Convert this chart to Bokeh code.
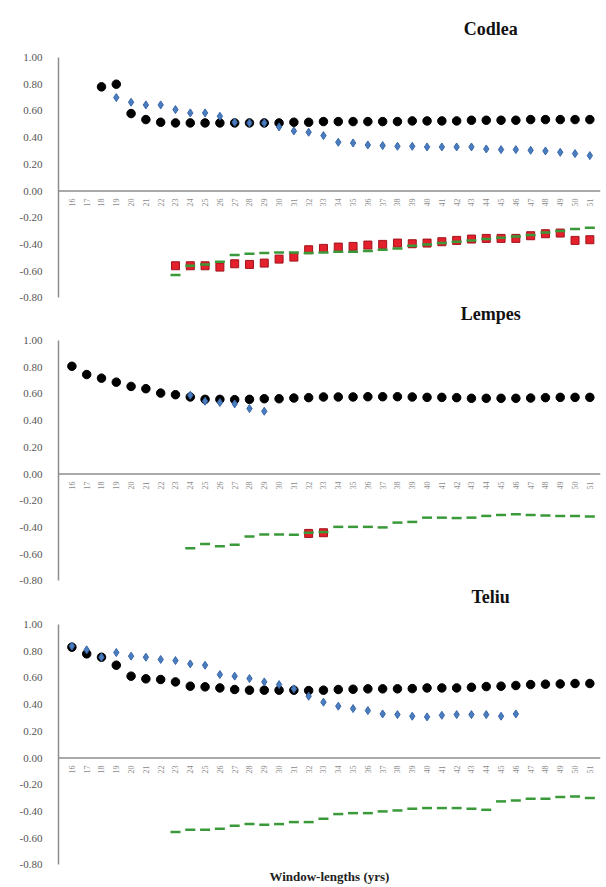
from math import pi
import numpy as np
from bokeh.plotting import figure
from bokeh.layouts import column
from bokeh.models import Range1d, Span, Label, FixedTicker, NumeralTickFormatter
from bokeh.core.properties import value
from bokeh.embed import file_html
from bokeh.resources import INLINE

# ---------------- data ----------------
windows = list(range(16, 52))          # window lengths (tick labels), 36 categories
y_ticks = [-0.8, -0.6, -0.4, -0.2, 0.0, 0.2, 0.4, 0.6, 0.8, 1.0]

# Codlea
codlea_black_start = 3
codlea_black = [0.78, 0.80, 0.58, 0.535, 0.515, 0.51, 0.51, 0.51, 0.51, 0.51,
                0.51, 0.51, 0.51, 0.515, 0.515, 0.52, 0.52, 0.52, 0.52, 0.52,
                0.52, 0.525, 0.525, 0.525, 0.525, 0.53, 0.53, 0.53, 0.53, 0.535,
                0.535, 0.535, 0.535, 0.535]
codlea_blue_start = 4
codlea_blue = [0.70, 0.665, 0.645, 0.645, 0.61, 0.585, 0.585, 0.56, 0.515, 0.51,
               0.51, 0.48, 0.45, 0.44, 0.415, 0.365, 0.36, 0.345, 0.34, 0.335,
               0.335, 0.33, 0.33, 0.33, 0.33, 0.315, 0.31, 0.31, 0.305, 0.30,
               0.29, 0.28, 0.265]
codlea_red_start = 8
codlea_red = [-0.56, -0.56, -0.56, -0.57, -0.545, -0.55, -0.54, -0.51, -0.495, -0.44,
              -0.43, -0.42, -0.415, -0.405, -0.40, -0.39, -0.395, -0.39, -0.38, -0.37,
              -0.36, -0.355, -0.355, -0.355, -0.335, -0.32, -0.315, -0.37, -0.365]
codlea_green_start = 8
codlea_green = [-0.63, -0.56, -0.55, -0.53, -0.48, -0.47, -0.465, -0.46, -0.46, -0.465,
                -0.46, -0.455, -0.455, -0.45, -0.44, -0.43, -0.41, -0.40, -0.39, -0.38,
                -0.37, -0.36, -0.35, -0.34, -0.33, -0.31, -0.30, -0.285, -0.275]

# Lempes
lempes_black_start = 1
lempes_black = [0.807, 0.745, 0.718, 0.688, 0.656, 0.639, 0.606, 0.594, 0.577, 0.559,
                0.559, 0.557, 0.559, 0.564, 0.564, 0.569, 0.572, 0.577, 0.577, 0.577,
                0.579, 0.579, 0.579, 0.577, 0.574, 0.574, 0.572, 0.567, 0.567, 0.567,
                0.567, 0.569, 0.572, 0.574, 0.574, 0.574]
lempes_blue_start = 9
lempes_blue = [0.59, 0.545, 0.535, 0.525, 0.49, 0.47]
lempes_red_start = 17
lempes_red = [-0.445, -0.44]
lempes_green_start = 9
lempes_green = [-0.557, -0.525, -0.542, -0.53, -0.468, -0.453, -0.453, -0.455, -0.44, -0.435,
                -0.396, -0.396, -0.396, -0.40, -0.364, -0.359, -0.327, -0.327, -0.33, -0.327,
                -0.314, -0.307, -0.302, -0.307, -0.31, -0.314, -0.314, -0.319]

# Teliu
teliu_black_start = 1
teliu_black = [0.83, 0.78, 0.755, 0.695, 0.613, 0.593, 0.588, 0.57, 0.538, 0.533,
               0.525, 0.513, 0.508, 0.508, 0.508, 0.508, 0.505, 0.508, 0.513, 0.515,
               0.518, 0.518, 0.518, 0.52, 0.525, 0.525, 0.525, 0.53, 0.535, 0.538,
               0.543, 0.55, 0.553, 0.555, 0.558, 0.558]
teliu_blue_start = 1
teliu_blue = [0.838, 0.81, 0.755, 0.79, 0.763, 0.755, 0.738, 0.73, 0.705, 0.695,
              0.625, 0.613, 0.595, 0.57, 0.55, 0.518, 0.463, 0.418, 0.388, 0.37,
              0.355, 0.33, 0.325, 0.313, 0.308, 0.32, 0.325, 0.325, 0.325, 0.313,
              0.33]
teliu_red_start = None
teliu_red = []
teliu_green_start = 8
teliu_green = [-0.555, -0.538, -0.538, -0.53, -0.508, -0.495, -0.50, -0.495, -0.48, -0.48,
               -0.455, -0.42, -0.413, -0.413, -0.40, -0.393, -0.38, -0.375, -0.375, -0.375,
               -0.38, -0.388, -0.325, -0.318, -0.305, -0.305, -0.293, -0.288, -0.30]

SERIF = "Liberation Serif"
PX_PER_UNIT = 133.5


def xs(start, vals):
    return [start + i for i in range(len(vals))]


def panel(name, height, top_px, title_px, black, blue, red, green, xlabel=None):
    top = 1.0 + top_px / PX_PER_UNIT
    bottom = top - height / PX_PER_UNIT
    p = figure(width=606, height=height, output_backend="svg", toolbar_location=None,
               x_axis_location=None, y_range=Range1d(bottom, top),
               x_range=Range1d(0.095, 36.72),
               min_border_left=58, min_border_right=6, min_border_top=0, min_border_bottom=0)
    p.outline_line_color = None
    p.grid.visible = False
    p.background_fill_color = "white"
    p.border_fill_color = "white"

    ax = p.yaxis[0]
    ax.ticker = FixedTicker(ticks=y_ticks)
    ax.formatter = NumeralTickFormatter(format="0.00")
    ax.bounds = (-0.8, 1.0)
    ax.axis_line_color = "#8c8c8c"
    ax.axis_line_width = 1.5
    ax.major_tick_line_color = None
    ax.minor_tick_line_color = None
    ax.major_label_standoff = 10
    ax.major_label_text_font = SERIF
    ax.major_label_text_font_size = "11px"
    ax.major_label_text_color = "#555555"

    p.add_layout(Span(location=0, dimension="width", line_color="#8c8c8c", line_width=1.5))

    # category labels under the zero line
    pos = list(range(1, len(windows) + 1))
    p.text(x=pos, y=[-0.056] * len(pos), text=[str(w) for w in windows], angle=pi / 2,
           text_align="right", text_baseline="middle", text_font=value(SERIF),
           text_font_size="8px", text_color="#8a8a8a")

    bs, bv = black
    p.scatter(xs(bs, bv), bv, marker="circle", size=8.5, fill_color="black", line_color="black")
    us, uv = blue
    p.scatter(xs(us, uv), uv, marker="diamond", size=8, fill_color="#4a7cc0",
              line_color="#3a68a8", line_width=1)
    rs, rv = red
    if rv:
        p.scatter(xs(rs, rv), rv, marker="square", size=8, fill_color="#e3202c",
                  line_color="#a0141c", line_width=1)
    gs, gv = green
    p.scatter(xs(gs, gv), gv, marker="dash", size=10, line_color="#3a9a3a", line_width=2.5)

    ty = top - title_px / PX_PER_UNIT
    p.add_layout(Label(x=29.3, y=ty, text=name, text_font=SERIF, text_font_style="bold",
                       text_font_size="18px", text_align="center", text_baseline="middle",
                       text_color="#111111"))
    if xlabel:
        p.add_layout(Label(x=18.4, y=-0.885, text=xlabel, text_font=SERIF, text_font_style="bold",
                           text_font_size="13px", text_align="center", text_baseline="middle",
                           text_color="#222222"))
    return p


p1 = panel("Codlea", 303, 57, 28,
           (codlea_black_start, codlea_black), (codlea_blue_start, codlea_blue),
           (codlea_red_start, codlea_red), (codlea_green_start, codlea_green))
p2 = panel("Lempes", 285, 37, 10,
           (lempes_black_start, lempes_black), (lempes_blue_start, lempes_blue),
           (lempes_red_start, lempes_red), (lempes_green_start, lempes_green))
p3 = panel("Teliu", 299, 36, 8,
           (teliu_black_start, teliu_black), (teliu_blue_start, teliu_blue),
           (teliu_red_start, teliu_red), (teliu_green_start, teliu_green),
           xlabel="Window-lengths (yrs)")

layout = column(p1, p2, p3, spacing=0)
open("out.html", "w").write(file_html(layout, INLINE))
